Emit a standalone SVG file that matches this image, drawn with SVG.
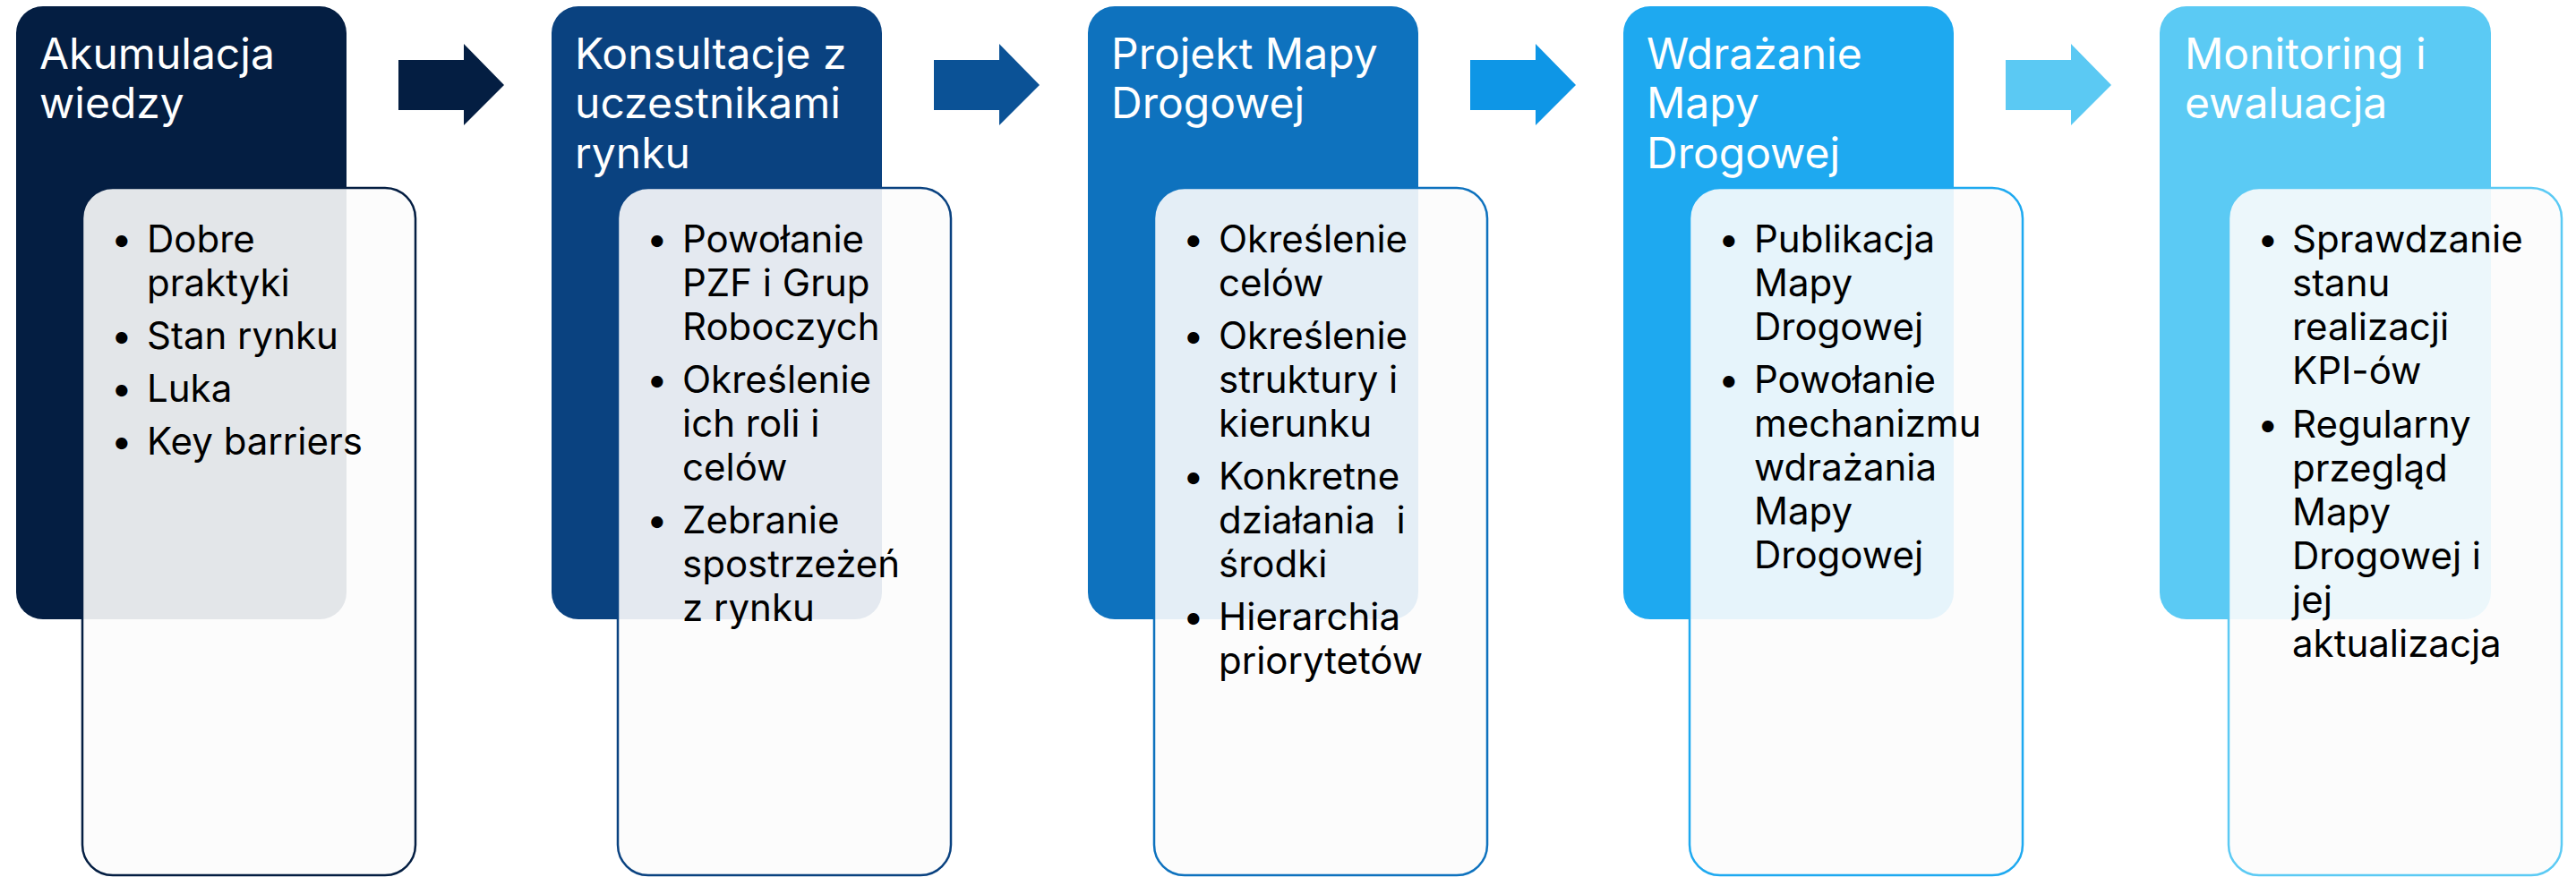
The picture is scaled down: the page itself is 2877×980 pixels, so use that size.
<svg xmlns="http://www.w3.org/2000/svg" width="2877" height="980" viewBox="0 0 2877 980">
<style>
.title{font-family:Inter,"Open Sans","Liberation Sans",sans-serif;font-size:48px;fill:#ffffff}
.item{font-family:Inter,"Open Sans","Liberation Sans",sans-serif;font-size:42px;fill:#000000}
.inner{fill:#fcfcfc;fill-opacity:0.9;stroke-width:2.5}
</style>
<rect width="2877" height="980" fill="#ffffff"/>
<g id="connectors">
<path d="M445,67 H518 V49 L563,95 L518,140 V123 H445 Z" fill="#041e42"/>
<path d="M1043,67 H1116 V49 L1161,95 L1116,140 V123 H1043 Z" fill="#0b5296"/>
<path d="M1642,67 H1715 V49 L1760,95 L1715,140 V123 H1642 Z" fill="#0e96e6"/>
<path d="M2240,67 H2313 V49 L2358,95 L2313,140 V123 H2240 Z" fill="#5bc9f3"/>
</g>
<g id="node1">
<rect x="18" y="7" width="369" height="685" rx="30" fill="#041e42"/>
<text class="title" x="44"><tspan x="44" y="77">Akumulacja</tspan><tspan x="44" y="132">wiedzy</tspan></text>
<rect class="inner" x="92" y="210" width="372" height="768" rx="34" stroke="#041e42"/>
<text class="item"><tspan x="124" y="282">•</tspan><tspan x="164" y="282">Dobre</tspan><tspan x="164" y="331">praktyki</tspan><tspan x="124" y="390">•</tspan><tspan x="164" y="390">Stan rynku</tspan><tspan x="124" y="449">•</tspan><tspan x="164" y="449">Luka</tspan><tspan x="124" y="508">•</tspan><tspan x="164" y="508">Key barriers</tspan></text>
</g>
<g id="node2">
<rect x="616" y="7" width="369" height="685" rx="30" fill="#0a4280"/>
<text class="title"><tspan x="642" y="77">Konsultacje z</tspan><tspan x="642" y="132">uczestnikami</tspan><tspan x="642" y="188">rynku</tspan></text>
<rect class="inner" x="690" y="210" width="372" height="768" rx="34" stroke="#0a4280"/>
<text class="item"><tspan x="722" y="282">•</tspan><tspan x="762" y="282">Powołanie</tspan><tspan x="762" y="331">PZF i Grup</tspan><tspan x="762" y="380">Roboczych</tspan><tspan x="722" y="439">•</tspan><tspan x="762" y="439">Określenie</tspan><tspan x="762" y="488">ich roli i</tspan><tspan x="762" y="537">celów</tspan><tspan x="722" y="596">•</tspan><tspan x="762" y="596">Zebranie</tspan><tspan x="762" y="645">spostrzeżeń</tspan><tspan x="762" y="694">z rynku</tspan></text>
</g>
<g id="node3">
<rect x="1215" y="7" width="369" height="685" rx="30" fill="#0e72be"/>
<text class="title"><tspan x="1241" y="77">Projekt Mapy</tspan><tspan x="1241" y="132">Drogowej</tspan></text>
<rect class="inner" x="1289" y="210" width="372" height="768" rx="34" stroke="#0e72be"/>
<text class="item"><tspan x="1321" y="282">•</tspan><tspan x="1361" y="282">Określenie</tspan><tspan x="1361" y="331">celów</tspan><tspan x="1321" y="390">•</tspan><tspan x="1361" y="390">Określenie</tspan><tspan x="1361" y="439">struktury i</tspan><tspan x="1361" y="488">kierunku</tspan><tspan x="1321" y="547">•</tspan><tspan x="1361" y="547">Konkretne</tspan><tspan x="1361" y="596" xml:space="preserve">działania  i</tspan><tspan x="1361" y="645">środki</tspan><tspan x="1321" y="704">•</tspan><tspan x="1361" y="704">Hierarchia</tspan><tspan x="1361" y="753">priorytetów</tspan></text>
</g>
<g id="node4">
<rect x="1813" y="7" width="369" height="685" rx="30" fill="#1ea9f0"/>
<text class="title"><tspan x="1839" y="77">Wdrażanie</tspan><tspan x="1839" y="132">Mapy</tspan><tspan x="1839" y="188">Drogowej</tspan></text>
<rect class="inner" x="1887" y="210" width="372" height="768" rx="34" stroke="#1ea9f0"/>
<text class="item"><tspan x="1919" y="282">•</tspan><tspan x="1959" y="282">Publikacja</tspan><tspan x="1959" y="331">Mapy</tspan><tspan x="1959" y="380">Drogowej</tspan><tspan x="1919" y="439">•</tspan><tspan x="1959" y="439">Powołanie</tspan><tspan x="1959" y="488">mechanizmu</tspan><tspan x="1959" y="537">wdrażania</tspan><tspan x="1959" y="586">Mapy</tspan><tspan x="1959" y="635">Drogowej</tspan></text>
</g>
<g id="node5">
<rect x="2412" y="7" width="370" height="685" rx="30" fill="#5bcaf4"/>
<text class="title"><tspan x="2440" y="77">Monitoring i</tspan><tspan x="2440" y="132">ewaluacja</tspan></text>
<rect class="inner" x="2489" y="210" width="372" height="768" rx="34" stroke="#5bcaf4"/>
<text class="item"><tspan x="2521" y="282">•</tspan><tspan x="2560" y="282">Sprawdzanie</tspan><tspan x="2560" y="331">stanu</tspan><tspan x="2560" y="380">realizacji</tspan><tspan x="2560" y="429">KPI-ów</tspan><tspan x="2521" y="489">•</tspan><tspan x="2560" y="489">Regularny</tspan><tspan x="2560" y="538">przegląd</tspan><tspan x="2560" y="587">Mapy</tspan><tspan x="2560" y="636">Drogowej i</tspan><tspan x="2560" y="685">jej</tspan><tspan x="2560" y="734">aktualizacja</tspan></text>
</g>
</svg>
